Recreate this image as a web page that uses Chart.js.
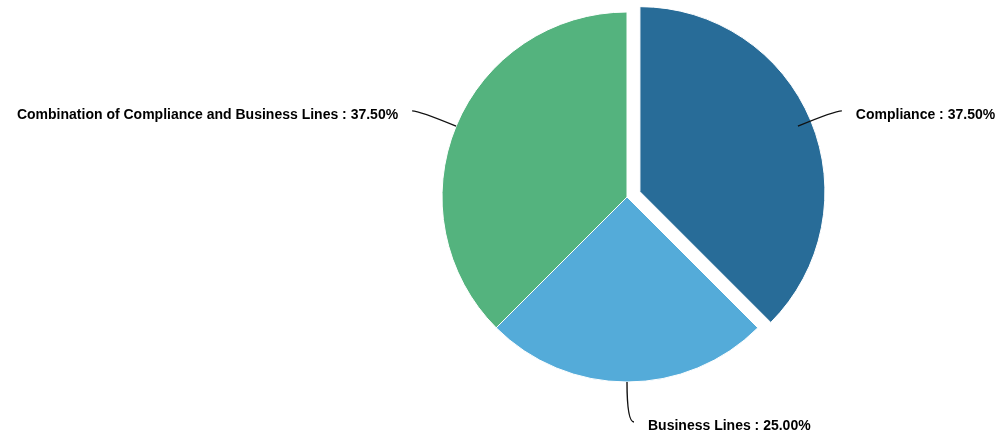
<!DOCTYPE html>
<html>
<head>
<meta charset="utf-8">
<script src="https://cdn.jsdelivr.net/npm/chart.js@4/dist/chart.umd.min.js"></script>
<style>
    html, body { margin: 0; padding: 0; background: #fff; }
    #pie { display: block; }
</style>
</head>
<body>
<canvas id="pie" width="999" height="439"></canvas>
<script>
const categories = ['Compliance', 'Business Lines', 'Combination of Compliance and Business Lines'];
const shares = [37.5, 25, 37.5];
const sliceColors = ['#286c98', '#54abd9', '#54b37e'];
// how far each slice is pulled out of the pie, px
const pullOut = [14, 0, 0];

// remember the real pie center, then push exploded slices out along their middle angle
const explode = {
    id: 'explode',
    afterDatasetUpdate(chart, args) {
        if (args.index !== 0) return
        const meta = chart.getDatasetMeta(0)
        chart.$pieCenter = { x: meta.data[0].x, y: meta.data[0].y }

        meta.data.forEach((arc, i) => {
            if (!pullOut[i]) return
            const mid = (arc.startAngle + arc.endAngle) / 2
            arc.x += Math.cos(mid) * pullOut[i]
            arc.y += Math.sin(mid) * pullOut[i]
        })
    }
}

// leader lines + "name : pct%" labels outside the pie
const outsideLabels = {
    id: 'outsideLabels',
    afterDraw(chart) {
        const ctx = chart.ctx
        const meta = chart.getDatasetMeta(0)
        const center = chart.$pieCenter

        ctx.save()
        ctx.font = 'bold 14px "Liberation Sans", Arial, sans-serif'
        ctx.textBaseline = 'middle'
        ctx.fillStyle = '#000'
        ctx.strokeStyle = '#111'
        ctx.lineWidth = 1.4

        meta.data.forEach((arc, i) => {
            const mid = (arc.startAngle + arc.endAngle) / 2
            const cos = Math.cos(mid)
            const sin = Math.sin(mid)
            const right = cos >= -0.001
            const dir = right ? 1 : -1
            const r = arc.outerRadius

            const ax = center.x + cos * r
            const ay = center.y + sin * r
            const cx = center.x + cos * (r + 40)
            const cy = center.y + sin * (r + 40)
            const ex = cx + dir * 7
            const ey = cy

            ctx.beginPath()
            ctx.moveTo(ax, ay)
            ctx.quadraticCurveTo(cx, cy, ex, ey)
            ctx.stroke()

            const text = categories[i] + ' : ' + shares[i].toFixed(2) + '%'
            ctx.textAlign = right ? 'left' : 'right'
            ctx.fillText(text, ex + dir * 14, ey + 4.5)
        })

        ctx.restore()
    }
}

new Chart(document.getElementById('pie'), {
    type: 'pie',
    data: {
        labels: categories,
        datasets: [{
            data: shares,
            backgroundColor: sliceColors,
            borderColor: '#fff',
            borderWidth: 1
        }]
    },
    options: {
        responsive: false,
        animation: false,
        radius: 185,
        layout: {
            padding: { left: 255, right: 0, top: 0, bottom: 45 }
        },
        plugins: {
            legend: { display: false },
            tooltip: { enabled: false }
        }
    },
    plugins: [explode, outsideLabels]
});
</script>
</body>
</html>
